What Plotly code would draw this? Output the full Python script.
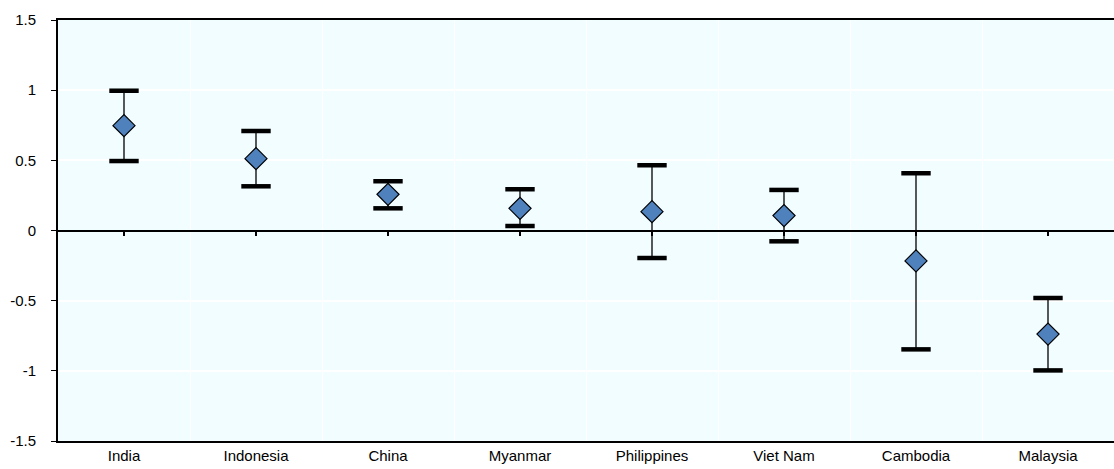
import plotly.graph_objects as go

categories = ["India", "Indonesia", "China", "Myanmar", "Philippines", "Viet Nam", "Cambodia", "Malaysia"]
estimate = [0.747, 0.512, 0.258, 0.158, 0.134, 0.106, -0.217, -0.738]
upper = [0.996, 0.709, 0.351, 0.294, 0.465, 0.289, 0.408, -0.481]
lower = [0.495, 0.315, 0.158, 0.032, -0.196, -0.077, -0.847, -0.997]
y_ticks = [-1.5, -1, -0.5, 0, 0.5, 1, 1.5]
y_ticktext = ["-1.5", "-1", "-0.5", "0", "0.5", "1", "1.5"]

xpos = list(range(len(categories)))
err_plus = [u - e for u, e in zip(upper, estimate)]
err_minus = [e - l for e, l in zip(estimate, lower)]

fig = go.Figure()

# stems
fig.add_trace(go.Scatter(
    x=xpos, y=estimate, mode="markers",
    marker=dict(size=1, color="rgba(0,0,0,0)"),
    error_y=dict(type="data", symmetric=False, array=err_plus, arrayminus=err_minus,
                 color="black", thickness=1.3, width=0),
    hoverinfo="skip", showlegend=False,
))
# caps
fig.add_trace(go.Scatter(
    x=xpos + xpos, y=upper + lower, mode="markers",
    marker=dict(symbol="line-ew", size=21, line=dict(color="black", width=4.5)),
    showlegend=False,
))
# diamonds
fig.add_trace(go.Scatter(
    x=xpos, y=estimate, mode="markers",
    marker=dict(symbol="diamond", size=17, color="#4F81BD", line=dict(color="black", width=1.2)),
    showlegend=False,
))
# dummy trace for second x-axis (ticks on zero line)
fig.add_trace(go.Scatter(x=xpos, y=estimate, mode="markers", marker=dict(opacity=0),
                         xaxis="x2", hoverinfo="skip", showlegend=False))

fig.update_layout(
    width=1114, height=469,
    margin=dict(l=58, r=0, t=20, b=28),
    paper_bgcolor="white",
    plot_bgcolor="#F2FDFF",
    font=dict(family="Liberation Sans, Arial, sans-serif", size=15, color="black"),
    xaxis=dict(
        range=[-0.5, len(categories) - 0.5],
        tickmode="array", tickvals=xpos, ticktext=categories,
        showgrid=False, zeroline=False,
        showline=True, linecolor="black", linewidth=2, mirror=True,
        ticks="", ticklen=0,
        minor=dict(tickmode="array", tickvals=[i + 0.5 for i in xpos[:-1]],
                   showgrid=True, gridcolor="white", gridwidth=1, ticks=""),
    ),
    xaxis2=dict(
        range=[-0.5, len(categories) - 0.5], overlaying="x", anchor="free", position=0.5,
        side="bottom", tickmode="array", tickvals=xpos, showticklabels=False,
        ticks="outside", ticklen=4, tickwidth=1.5, tickcolor="black",
        showgrid=False, zeroline=False, showline=False,
    ),
    yaxis=dict(
        range=[-1.5, 1.5], tickmode="array", tickvals=y_ticks, ticktext=y_ticktext,
        showgrid=True, gridcolor="white", gridwidth=1.5,
        zeroline=True, zerolinecolor="black", zerolinewidth=1.5,
        showline=True, linecolor="black", linewidth=2,
        ticks="outside", ticklen=5, tickcolor="black", tickwidth=1,
        ticklabelstandoff=12,
    ),
)

fig.write_html(
    "out.html",
    config={"displayModeBar": False},
    post_script="document.body.style.margin='0';document.body.style.overflow='hidden';",
)
